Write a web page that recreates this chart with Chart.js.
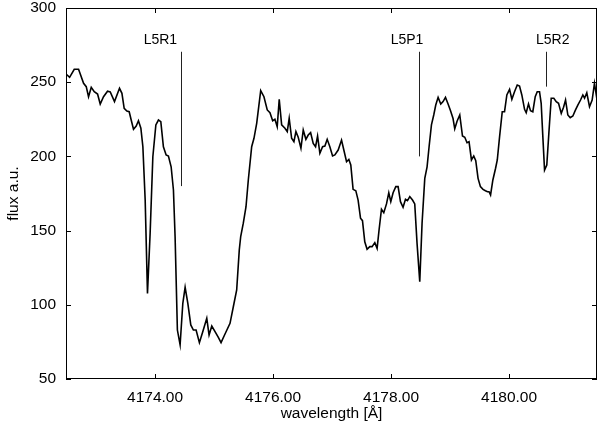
<!DOCTYPE html>
<html>
<head>
<meta charset="utf-8">
<script src="https://cdn.jsdelivr.net/npm/chart.js@4"></script>
<style>
  html, body { margin: 0; padding: 0; background: #fff; }
  #wrap { width: 600px; height: 431px; }
</style>
</head>
<body>
<div id="wrap"><canvas id="spectrum" width="600" height="431"></canvas></div>
<script>
// ── datos del espectro ──
const wavelength = [
  4172.49, 4172.551, 4172.630, 4172.703, 4172.788, 4172.833, 4172.872, 4172.918, 4172.969, 4173.025,
  4173.070, 4173.126, 4173.194, 4173.240, 4173.312, 4173.397, 4173.438, 4173.476, 4173.522, 4173.561,
  4173.595, 4173.634, 4173.680, 4173.718, 4173.759, 4173.793, 4173.832, 4173.871, 4173.916, 4173.962,
  4174.013, 4174.057, 4174.097, 4174.141, 4174.187, 4174.226, 4174.272, 4174.311, 4174.339, 4174.378,
  4174.424, 4174.470, 4174.509, 4174.555, 4174.605, 4174.649, 4174.695, 4174.751, 4174.808, 4174.876,
  4174.915, 4174.961, 4175.016, 4175.072, 4175.118, 4175.185, 4175.270, 4175.326, 4175.383, 4175.427,
  4175.451, 4175.495, 4175.541, 4175.580, 4175.637, 4175.676, 4175.722, 4175.790, 4175.845, 4175.901,
  4175.947, 4175.993, 4176.031, 4176.070, 4176.104, 4176.145, 4176.201, 4176.240, 4176.273, 4176.314,
  4176.353, 4176.387, 4176.426, 4176.472, 4176.511, 4176.556, 4176.595, 4176.636, 4176.680, 4176.720,
  4176.754, 4176.793, 4176.839, 4176.878, 4176.917, 4176.962, 4177.008, 4177.047, 4177.103, 4177.160,
  4177.199, 4177.245, 4177.284, 4177.317, 4177.356, 4177.402, 4177.441, 4177.482, 4177.515, 4177.554,
  4177.593, 4177.639, 4177.678, 4177.724, 4177.763, 4177.796, 4177.837, 4177.876, 4177.922, 4177.961,
  4177.995, 4178.034, 4178.080, 4178.119, 4178.159, 4178.203, 4178.244, 4178.278, 4178.317, 4178.363,
  4178.401, 4178.440, 4178.486, 4178.525, 4178.571, 4178.610, 4178.644, 4178.684, 4178.723, 4178.757,
  4178.797, 4178.842, 4178.881, 4178.922, 4178.966, 4179.006, 4179.050, 4179.079, 4179.118, 4179.164,
  4179.210, 4179.249, 4179.287, 4179.321, 4179.362, 4179.401, 4179.435, 4179.474, 4179.514, 4179.558,
  4179.599, 4179.633, 4179.660, 4179.686, 4179.725, 4179.771, 4179.800, 4179.839, 4179.884, 4179.923,
  4179.962, 4180.008, 4180.047, 4180.092, 4180.138, 4180.177, 4180.216, 4180.262, 4180.290, 4180.329,
  4180.363, 4180.402, 4180.443, 4180.477, 4180.516, 4180.544, 4180.572, 4180.601, 4180.639, 4180.674,
  4180.714, 4180.758, 4180.799, 4180.838, 4180.884, 4180.923, 4180.957, 4180.996, 4181.036, 4181.081,
  4181.126, 4181.165, 4181.211, 4181.250, 4181.279, 4181.317, 4181.363, 4181.408, 4181.447, 4181.486
];

const flux = [
  255.5, 253.3, 258.7, 258.7, 249.3, 247.0, 240.2, 246.5, 243.6, 242.0,
  235.3, 240.2, 243.9, 243.4, 236.9, 245.9, 242.5, 232.4, 230.6, 230.1,
  224.5, 218.3, 220.5, 224.0, 219.0, 206.5, 170.6, 107.7, 148.2, 199.8,
  221.2, 224.5, 223.4, 206.5, 201.0, 200.3, 193.0, 177.4, 146.0, 83.0,
  73.0, 101.0, 111.8, 101.0, 86.4, 83.0, 83.0, 74.5, 81.9, 90.9,
  79.6, 85.7, 81.9, 78.1, 74.5, 80.3, 87.5, 98.7, 110.0, 137.0,
  146.0, 155.0, 166.1, 184.1, 206.5, 212.2, 222.3, 244.3, 240.2, 231.3,
  229.4, 224.0, 225.0, 220.0, 238.5, 221.2, 219.0, 216.7, 225.7, 212.2,
  209.9, 216.7, 212.9, 205.5, 217.8, 211.5, 214.4, 216.0, 208.8, 206.5,
  213.7, 202.1, 206.5, 207.0, 211.5, 206.5, 200.3, 201.0, 204.3, 211.0,
  204.3, 196.4, 198.0, 194.2, 177.8, 176.9, 170.6, 158.3, 156.7, 142.5,
  137.4, 139.2, 139.2, 141.9, 138.0, 150.4, 164.4, 162.1, 168.0, 175.5,
  169.5, 175.5, 179.6, 179.6, 169.5, 165.7, 171.1, 170.2, 172.9, 170.6,
  168.0, 141.4, 115.6, 155.0, 185.2, 193.0, 206.5, 221.2, 227.9, 234.6,
  239.8, 235.3, 236.9, 239.8, 235.3, 231.0, 225.5, 218.6, 223.7, 227.9,
  213.7, 212.9, 209.2, 209.9, 197.6, 200.3, 197.1, 185.2, 179.6, 177.8,
  176.9, 176.2, 176.2, 174.0, 184.1, 192.0, 197.6, 213.3, 230.1, 230.1,
  241.4, 245.2, 238.5, 243.6, 248.1, 247.4, 241.4, 231.7, 229.4, 235.3,
  230.8, 230.1, 240.2, 243.6, 243.6, 235.8, 213.3, 190.8, 194.2, 215.6,
  239.2, 239.2, 236.9, 235.8, 229.0, 233.1, 238.0, 227.9, 226.1, 227.2,
  231.3, 234.6, 238.0, 241.4, 239.2, 242.9, 233.5, 238.0, 249.3, 239.2
];

// ejes
const xTicks = [4174, 4176, 4178, 4180];
const yTicks = [50, 100, 150, 200, 250, 300];

// marcas de líneas espectrales
const lineNames = ["L5R1", "L5P1", "L5R2"];
const linePos = [4174.44, 4178.47, 4180.62];
const lineBottom = [180, 200, 247];
const lineTop = 270.5;
const labelPos = [4174.09, 4178.27, 4180.74];
const labelY = 278.5;

const FONT = "'Liberation Sans', Arial, Helvetica, sans-serif";

// dibuja marco, ticks hacia adentro y etiquetas de las líneas
const framePlugin = {
  id: "frame",
  afterDraw(chart) {
    const ctx = chart.ctx;
    const a = chart.chartArea;
    const xs = chart.scales.x, ys = chart.scales.y;
    ctx.save();
    ctx.strokeStyle = "#000";
    ctx.lineWidth = 1;
    ctx.strokeRect(a.left + 0.5, a.top + 0.5, a.right - a.left - 1, a.bottom - a.top - 1);

    const tl = 5;
    ctx.beginPath();
    xTicks.forEach(v => {
      const px = Math.round(xs.getPixelForValue(v)) + 0.5;
      ctx.moveTo(px, a.bottom); ctx.lineTo(px, a.bottom - tl);
      ctx.moveTo(px, a.top); ctx.lineTo(px, a.top + tl);
    });
    yTicks.forEach(v => {
      const py = Math.round(ys.getPixelForValue(v)) + 0.5;
      ctx.moveTo(a.left, py); ctx.lineTo(a.left + tl, py);
      ctx.moveTo(a.right, py); ctx.lineTo(a.right - tl, py);
    });
    ctx.stroke();

    // líneas de identificación
    ctx.strokeStyle = "#222";
    ctx.beginPath();
    linePos.forEach((v, i) => {
      const px = Math.round(xs.getPixelForValue(v)) + 0.5;
      ctx.moveTo(px, ys.getPixelForValue(lineTop));
      ctx.lineTo(px, ys.getPixelForValue(lineBottom[i]));
    });
    ctx.stroke();

    ctx.fillStyle = "#000";
    ctx.font = "14px " + FONT;
    ctx.textAlign = "center";
    ctx.textBaseline = "middle";
    lineNames.forEach((t, i) => {
      ctx.fillText(t, xs.getPixelForValue(labelPos[i]), ys.getPixelForValue(labelY));
    });
    ctx.restore();
  }
};

const ctx = document.getElementById("spectrum").getContext("2d");

new Chart(ctx, {
  type: "line",
  data: {
    datasets: [{
      data: wavelength.map((w, i) => ({ x: w, y: flux[i] })),
      borderColor: "#000",
      borderWidth: 1.6,
      pointRadius: 0,
      tension: 0,
      fill: false
    }]
  },
  options: {
    responsive: false,
    animation: false,
    layout: { padding: { top: 0, right: 3, left: 0, bottom: 0 } },
    plugins: {
      legend: { display: false },
      tooltip: { enabled: false }
    },
    scales: {
      x: {
        type: "linear",
        min: 4172.49,
        max: 4181.49,
        afterBuildTicks: s => { s.ticks = xTicks.map(v => ({ value: v })); },
        afterFit: s => { s.height = 52; },
        grid: { display: false, drawTicks: false },
        border: { display: false },
        ticks: {
          color: "#000",
          font: { family: FONT, size: 15.5 },
          padding: 9,
          maxRotation: 0,
          callback: v => v.toFixed(2)
        },
        title: {
          display: true,
          text: "wavelength [Å]",
          color: "#000",
          font: { family: FONT, size: 15.5 },
          padding: { top: 0, bottom: 8 }
        }
      },
      y: {
        min: 50,
        max: 300,
        afterBuildTicks: s => { s.ticks = yTicks.map(v => ({ value: v })); },
        afterFit: s => { s.width = 66; s.paddingTop = 8; },
        grid: { display: false, drawTicks: false },
        border: { display: false },
        ticks: {
          color: "#000",
          font: { family: FONT, size: 15.5, lineHeight: 1 },
          padding: 10
        },
        title: {
          display: true,
          text: "flux a.u.",
          color: "#000",
          font: { family: FONT, size: 15.5 },
          padding: { top: 4, bottom: 0 }
        }
      }
    }
  },
  plugins: [framePlugin]
});
</script>
</body>
</html>
